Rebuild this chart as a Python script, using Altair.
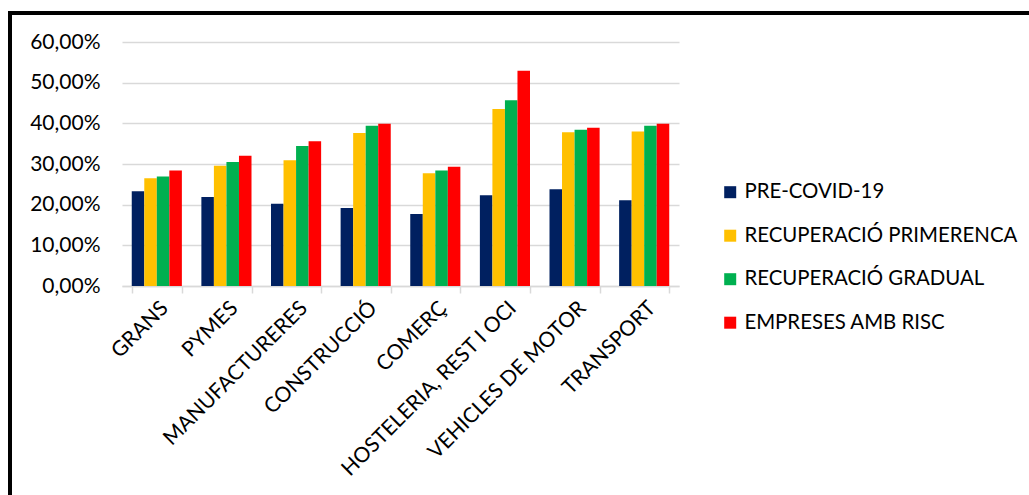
import altair as alt
import pandas as pd

categories = ["GRANS", "PYMES", "MANUFACTURERES", "CONSTRUCCIÓ", "COMERÇ",
              "HOSTELERIA, REST I OCI", "VEHICLES DE MOTOR", "TRANSPORT"]
series = ["PRE-COVID-19", "RECUPERACIÓ PRIMERENCA", "RECUPERACIÓ GRADUAL", "EMPRESES AMB RISC"]
colors = ["#002060", "#FFC000", "#00B050", "#FF0000"]

pre_covid = [23.3, 21.9, 20.2, 19.2, 17.7, 22.3, 23.8, 21.1]
recup_primerenca = [26.5, 29.6, 30.9, 37.6, 27.7, 43.5, 37.8, 38.0]
recup_gradual = [26.9, 30.5, 34.4, 39.4, 28.4, 45.7, 38.4, 39.4]
empreses_risc = [28.4, 32.0, 35.6, 39.9, 29.3, 52.9, 38.9, 39.9]

values = [pre_covid, recup_primerenca, recup_gradual, empreses_risc]
rows = []
for s, vals in zip(series, values):
    for c, v in zip(categories, vals):
        rows.append({"cat": c, "serie": s, "val": v / 100.0})
df = pd.DataFrame(rows)

FONT = "Lato"
FS = 21
LFS = 20.4

bars = alt.Chart(df).mark_bar().encode(
    x=alt.X("cat:N", sort=categories, title=None,
            scale=alt.Scale(paddingInner=0.28, paddingOuter=0.14),
            axis=alt.Axis(labelAngle=-45, labelFont=FONT, labelFontSize=FS, labelLimit=0,
                          labelColor="#000000", domainColor="#d9d9d9", domainWidth=1.5,
                          tickColor="#d9d9d9", tickWidth=1.5, tickSize=7, tickBand="extent",
                          labelPadding=4, grid=False)),
    xOffset=alt.XOffset("serie:N", sort=series),
    y=alt.Y("val:Q", title=None,
            scale=alt.Scale(domain=[0, 0.6], nice=False),
            axis=alt.Axis(values=[0, 0.1, 0.2, 0.3, 0.4, 0.5, 0.6],
                          labelExpr="replace(format(datum.value, '.2%'), '.', ',')",
                          labelFont=FONT, labelFontSize=FS, labelColor="#000000",
                          domain=False, ticks=False, labelPadding=22,
                          gridColor="#d9d9d9", gridWidth=1.5)),
    color=alt.Color("serie:N", sort=series,
                    scale=alt.Scale(domain=series, range=colors),
                    legend=alt.Legend(title=None, orient="none", legendX=598, legendY=140,
                                      symbolType="square", symbolSize=144,
                                      symbolStrokeWidth=0, labelFont=FONT,
                                      labelFontSize=LFS, labelColor="#000000", labelLimit=0,
                                      rowPadding=22.5, labelOffset=4)),
)

frame = alt.Chart(alt.Data(values=[{}]))
top_border = frame.mark_rule(color="#000000", strokeWidth=4).encode(
    x=alt.value(-114), x2=alt.value(2000), y=alt.value(-29))
left_border = frame.mark_rule(color="#000000", strokeWidth=4).encode(
    x=alt.value(-112), y=alt.value(-31), y2=alt.value(1000))

chart = alt.layer(bars, top_border, left_border).properties(
    width=557, height=244,
    autosize=alt.AutoSizeParams(type="none"),
    padding={"left": 122, "top": 42, "right": 350, "bottom": 209},
    background="#ffffff",
).configure_view(stroke=None)

chart.save("out.html", embed_options={"renderer": "svg", "actions": False})
